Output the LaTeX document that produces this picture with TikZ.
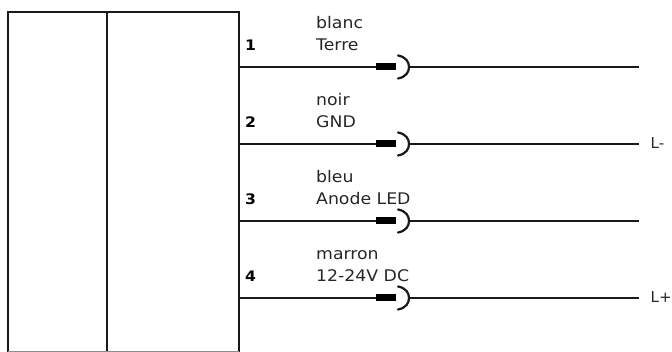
\documentclass[tikz,border=0pt]{standalone}
\usepackage{fontspec}
\setmainfont[FakeStretch=1.08]{DejaVu Sans}
\newfontfamily\tailfont{DejaVu Sans}
\tikzset{
  px/.style={x=1pt,y=-1pt},
  wire/.style={draw=black!90,line width=2pt},
  housing/.style={draw=black!90,line width=2pt},
  plug/.style={fill=black,draw=none,minimum width=20pt,minimum height=7pt,inner sep=0pt},
  socket/.style={draw=black!90,line width=2.2pt},
  lab/.style={inner sep=0pt,anchor=base west,font=\fontsize{16}{18}\selectfont,text=black!85},
  taillab/.style={inner sep=0pt,anchor=base west,font=\fontsize{15}{17}\selectfont\tailfont,text=black!85},
  pin/.style={inner sep=0pt,anchor=base west,font=\fontsize{14.5}{16}\selectfont\bfseries,text=black},
}
\begin{document}
\begin{tikzpicture}[px]
\useasboundingbox (0,0) rectangle (672,352);
\path[clip] (0,0) rectangle (672,352);
\draw[housing] (8,353) -- (8,12) -- (239,12) -- (239,353);
\draw[housing] (107,12) -- (107,353);
\draw[housing,draw=black!45,line width=1.2pt] (8,351.5) -- (239,351.5);
\foreach \n/\y/\pinb/\la/\lb/\lx/\tail in {
  1/67/51/blanc/Terre/316/,
  2/144/128/noir/GND/316/L-,
  3/221/205/bleu/Anode LED/316/,
  4/298/282/marron/12-24V DC/316/L+}{
  \coordinate (s\n) at (239,\y);
  \node[plug] (p\n) at (386,\y) {};
  \coordinate (c\n) at (409,\y);
  \coordinate (e\n) at (639,\y);
  \draw[wire] (s\n) -- (p\n.west);
  \draw[socket,line cap=round] (398,\y-11.5) .. controls (406,\y-10) and (409,\y-5) .. (c\n) .. controls (409,\y+5) and (406,\y+10) .. (398,\y+11.5);
  \draw[wire] (c\n) -- (e\n);
  \node[pin] (n\n) at (245,\pinb) {\n};
  \node[lab] (b\n) at (\lx,\pinb) {\lb};
  \node[lab] (a\n) at (\lx,\pinb-22) {\la};
  \node[taillab] (t\n) at (650.5,\y+5) {\tail};
}
\end{tikzpicture}
\end{document}
